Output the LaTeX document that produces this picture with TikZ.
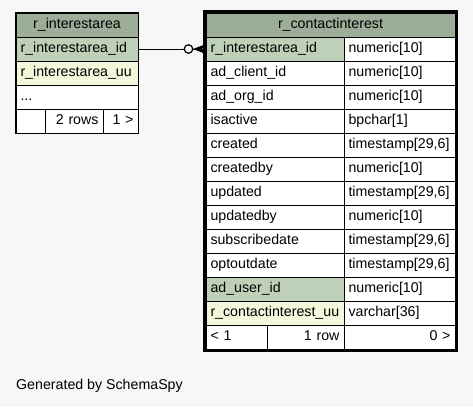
\documentclass[tikz,border=0pt]{standalone}
\usepackage{fontspec}
\setmainfont{Liberation Sans}
\usetikzlibrary{calc}
\definecolor{bg}{HTML}{F7F7F7}
\definecolor{hdr}{HTML}{9CAD98}
\definecolor{keyc}{HTML}{BED1B8}
\definecolor{uuc}{HTML}{F4F7DA}
\tikzset{
  cell/.style={draw=black, line width=1pt, fill=white, anchor=north west,
    minimum height=24pt, inner xsep=4.5pt, inner ysep=0pt, outer sep=0pt,
    font=\fontsize{14.2}{16}\selectfont, text height=10.5pt, text depth=3pt},
  lcell/.style={cell, minimum width=#1, text width=#1-9pt, align=left},
  rcell/.style={cell, minimum width=#1, text width=#1-9pt, align=right},
  ccell/.style={cell, minimum width=#1, text width=#1-9pt, align=center},
  hdrcell/.style={ccell=#1, fill=hdr},
}
\begin{document}
\begin{tikzpicture}[x=1pt,y=-1pt]
\fill[bg] (0,0) rectangle (473,407);
\useasboundingbox (0,0) rectangle (473,407);
% left table
\draw[line width=1pt] (15.5,12.5) rectangle (138.5,133.5);
\node[hdrcell=122pt] (lh) at (16,13) {r\_interestarea};
\node[lcell=122pt, fill=keyc] (lid) at (16,37) {r\_interestarea\_id};
\node[lcell=122pt, fill=uuc] (luu) at (16,61) {r\_interestarea\_uu};
\node[lcell=122pt] (ldots) at (16,85) {...};
\node[lcell=29pt] (lf1) at (16,109) {};
\node[rcell=58pt] (lf2) at (45,109) {2 rows};
\node[rcell=35pt] (lf3) at (103,109) {1 >};
% right table
\draw[line width=3pt] (204,11.5) rectangle (456.5,350.5);
\node[hdrcell=249pt] (rh) at (206,13) {r\_contactinterest};
\foreach \n/\t/\ty/\f [count=\i from 0] in {
  rid/r\_interestarea\_id/numeric[10]/keyc,
  rclient/ad\_client\_id/numeric[10]/white,
  rorg/ad\_org\_id/numeric[10]/white,
  ractive/isactive/bpchar[1]/white,
  rcreated/created/{timestamp[29,6]}/white,
  rcreatedby/createdby/numeric[10]/white,
  rupdated/updated/{timestamp[29,6]}/white,
  rupdatedby/updatedby/numeric[10]/white,
  rsub/subscribedate/{timestamp[29,6]}/white,
  ropt/optoutdate/{timestamp[29,6]}/white,
  ruser/ad\_user\_id/numeric[10]/keyc,
  ruu/r\_contactinterest\_uu/varchar[36]/uuc}{
  \node[lcell=138pt, fill=\f] (\n) at (206,37+24*\i) {\t};
  \node[lcell=111pt] (\n-t) at (344,37+24*\i) {\ty};
}
\node[lcell=61pt] (rf1) at (206,325) {< 1};
\node[rcell=77pt] (rf2) at (267,325) {1 row};
\node[rcell=111pt] (rf3) at (344,325) {0 >};
% connector
\node[draw=black, line width=1.2pt, circle, minimum size=8.5pt, inner sep=0pt, fill=bg] (odot) at (188.5,49) {};
\draw[line width=1pt] (lid.east) -- (odot.west);
\draw[line width=1pt] (odot.east) -- (rid.west);
\fill[black] ($(rid.west)+(-13,0)$) -- ($(rid.west)+(0,-5)$) -- ($(rid.west)+(-4,0)$) -- ($(rid.west)+(0,5)$) -- cycle;
% footer text
\node[anchor=west, inner sep=0pt, font=\fontsize{14.2}{16}\selectfont] (gen) at (16,386) {Generated by SchemaSpy};
\end{tikzpicture}
\end{document}
